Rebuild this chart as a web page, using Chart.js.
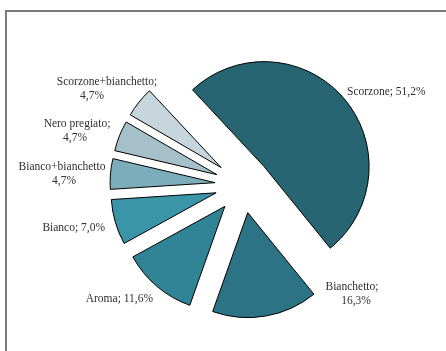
<!DOCTYPE html>
<html>
<head>
<meta charset="utf-8">
<script src="https://cdn.jsdelivr.net/npm/chart.js@4/dist/chart.umd.min.js"></script>
<style>
  html, body { margin: 0; padding: 0; background: #fff; }
  #wrap { position: relative; width: 446px; height: 351px; overflow: hidden; }
  #frame { position: absolute; left: 5px; top: 10px; right: -10px; bottom: -10px;
           border-top: 2px solid #7b7b7b; border-left: 2px solid #7b7b7b; }
  canvas { position: absolute; left: 0; top: 0; }
</style>
</head>
<body>
<div id="wrap">
  <div id="frame"></div>
  <canvas id="chart" width="446" height="351"></canvas>
</div>
<script>
const categories = ['Scorzone', 'Bianchetto', 'Aroma', 'Bianco', 'Bianco+bianchetto', 'Nero pregiato', 'Scorzone+bianchetto'];
const shares = [51.2, 16.3, 11.6, 7.0, 4.7, 4.7, 4.7];
const sliceColors = ['#266571', '#2b7385', '#308496', '#3a95a9', '#7cadba', '#a6c0ca', '#c6d6dc'];

// where each data label sits (style only)
const labelLayout = [
  { x: 347, y: 92, align: 'left' },
  { x: 352, y: 287, align: 'center', wrap: true, dx2: 4 },
  { x: 153, y: 299, align: 'right' },
  { x: 105, y: 228, align: 'right' },
  { x: 62, y: 167, align: 'center', wrap: true, noSemi: true, dx2: 2 },
  { x: 77, y: 124, align: 'center', wrap: true, dx2: -2 },
  { x: 107, y: 82, align: 'center', wrap: true, dx2: -15 },
];

const explode = 28;
const fmtPct = (v) => v.toFixed(1).replace('.', ',') + '%';

// pull every slice out by the same distance (the built-in offset also grows/narrows the arcs)
const explodePlugin = {
  id: 'explode',
  beforeDatasetDraw(chart, args) {
    const ctx = chart.ctx;
    args.meta.data.forEach((arc) => {
      const mid = (arc.startAngle + arc.endAngle) / 2;
      ctx.save();
      ctx.translate(Math.cos(mid) * explode, Math.sin(mid) * explode);
      arc.draw(ctx);
      ctx.restore();
    });
    return false;
  },
};

const pieLabels = {
  id: 'pieLabels',
  afterDraw(chart) {
    const ctx = chart.ctx;
    ctx.save();
    ctx.font = '11.5px "Liberation Serif", serif';
    ctx.fillStyle = '#2e2e2e';
    ctx.textBaseline = 'middle';
    categories.forEach((cat, i) => {
      const l = labelLayout[i];
      ctx.textAlign = l.align;
      const pct = fmtPct(shares[i]);
      if (l.wrap) {
        ctx.fillText(cat + (l.noSemi ? '' : ';'), l.x, l.y);
        ctx.fillText(pct, l.x + (l.dx2 || 0), l.y + 13.5);
      } else {
        ctx.fillText(cat + '; ' + pct, l.x, l.y);
      }
    });
    ctx.restore();
  },
};

new Chart(document.getElementById('chart'), {
  type: 'pie',
  data: {
    labels: categories,
    datasets: [{
      data: shares,
      backgroundColor: sliceColors,
      borderColor: '#000',
      borderWidth: 1,
    }],
  },
  options: {
    responsive: false,
    animation: false,
    events: [],
    rotation: -43,
    radius: 105,
    layout: { padding: { left: 40, right: 0, top: 19, bottom: 0 } },
    plugins: {
      legend: { display: false },
      tooltip: { enabled: false },
    },
  },
  plugins: [explodePlugin, pieLabels],
});
</script>
</body>
</html>
